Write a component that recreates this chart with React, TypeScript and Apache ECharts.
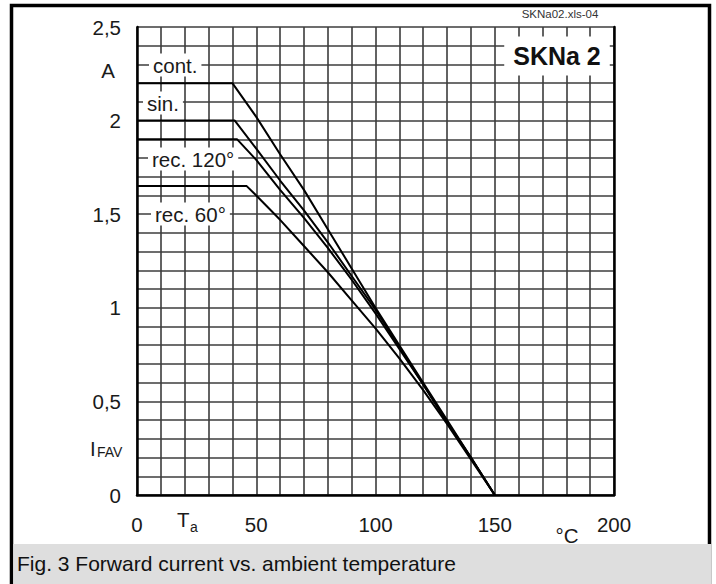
import React, { useEffect, useRef } from "react";
import * as echarts from "echarts";

// ---- data ----
const xLabelValues = [0, 50, 100, 150, 200];
const yTickLabels = ["0", "0,5", "1", "1,5", "2", "2,5"];

const contT = [0, 40, 50, 60, 70, 80, 90, 100, 110, 120, 130, 140, 150];
const contI = [2.2, 2.2, 2.02, 1.82, 1.63, 1.42, 1.21, 1.0, 0.8, 0.6, 0.4, 0.2, 0];

const sinT = [0, 41, 50, 60, 70, 80, 90, 100, 110, 120, 130, 140, 150];
const sinI = [2.0, 2.0, 1.85, 1.68, 1.52, 1.35, 1.17, 0.99, 0.79, 0.59, 0.39, 0.2, 0];

const rec120T = [0, 42, 50, 60, 70, 80, 90, 100, 110, 120, 130, 140, 150];
const rec120I = [1.9, 1.9, 1.79, 1.63, 1.48, 1.32, 1.15, 0.97, 0.78, 0.59, 0.39, 0.2, 0];

const rec60T = [0, 46, 50, 60, 70, 80, 90, 100, 110, 120, 130, 140, 150];
const rec60I = [1.65, 1.65, 1.6, 1.47, 1.33, 1.19, 1.04, 0.89, 0.73, 0.56, 0.38, 0.19, 0];

const curveNames = ["cont.", "sin.", "rec. 120°", "rec. 60°"];
const curveT = [contT, sinT, rec120T, rec60T];
const curveI = [contI, sinI, rec120I, rec60I];

const FONT = '"Liberation Sans", Arial, Helvetica, sans-serif';

function pairs(t: number[], i: number[]) {
  return t.map((v, k) => [v, i[k]]);
}

export default function App() {
  const ref = useRef<HTMLDivElement>(null);

  useEffect(() => {
    const chart = echarts.init(ref.current!, null, { renderer: "svg" });

    const labelBox = (text: string, x: number, y: number) => ({
      type: "text",
      z: 60,
      style: {
        text,
        x,
        y,
        fill: "#1a1a1a",
        fontSize: 20.5,
        fontFamily: FONT,
        align: "left",
        verticalAlign: "middle",
        backgroundColor: "#fff",
        padding: [1, 4, 1, 4],
      },
    });

    const plainText = (
      text: string,
      x: number,
      y: number,
      size: number,
      align: string,
      extra: any = {}
    ) => ({
      type: "text",
      z: 60,
      style: {
        text,
        x,
        y,
        fill: "#1a1a1a",
        fontSize: size,
        fontFamily: FONT,
        align,
        verticalAlign: "middle",
        ...extra,
      },
    });

    const option: any = {
      animation: false,
      backgroundColor: "#fff",
      grid: { left: 137, top: 27, width: 477, height: 468, containLabel: false },
      xAxis: {
        type: "value",
        min: 0,
        max: 200,
        interval: 10,
        axisLine: { show: true, onZero: false, lineStyle: { color: "#000", width: 2.5 } },
        axisTick: { show: false },
        axisLabel: {
          margin: 19,
          fontSize: 20.5,
          fontFamily: FONT,
          color: "#1a1a1a",
          formatter: (v: number) => (xLabelValues.indexOf(Math.round(v)) >= 0 ? String(Math.round(v)) : ""),
        },
        splitLine: { show: true, lineStyle: { color: "#3c3c3c", width: 1.6 } },
      },
      yAxis: [
        {
          type: "value",
          min: 0,
          max: 2.5,
          interval: 0.1,
          axisLine: { show: true, onZero: false, lineStyle: { color: "#000", width: 2.5 } },
          axisTick: { show: false },
          axisLabel: {
            margin: 16,
            fontSize: 20.5,
            fontFamily: FONT,
            color: "#1a1a1a",
            formatter: (v: number) => {
              const k = Math.round(v * 10);
              return k % 5 === 0 ? yTickLabels[k / 5] : "";
            },
          },
          splitLine: { show: true, lineStyle: { color: "#3c3c3c", width: 1.6 } },
        },
        {
          type: "value",
          position: "right",
          min: 0,
          max: 2.5,
          interval: 0.5,
          axisLine: { show: true, onZero: false, lineStyle: { color: "#000", width: 2.5 } },
          axisTick: { show: false },
          axisLabel: { show: false },
          splitLine: { show: false },
        },
      ],
      series: curveNames.map((name, k) => ({
        name,
        type: "line",
        data: pairs(curveT[k], curveI[k]),
        showSymbol: false,
        symbol: "none",
        smooth: false,
        z: 5,
        lineStyle: { color: "#000", width: 2 },
      })),
      graphic: [
        {
          type: "rect",
          z: 50,
          shape: { x: 11.5, y: 5.5, width: 698, height: 620 },
          style: { fill: "none", stroke: "#000", lineWidth: 3.5 },
        },
        {
          type: "rect",
          z: 51,
          shape: { x: 13.3, y: 544, width: 698, height: 45 },
          style: { fill: "#dedede" },
        },
        plainText("Fig. 3 Forward current vs. ambient temperature", 17, 563, 21, "left", { fill: "#111" }),
        plainText("SKNa02.xls-04", 560, 14, 11.5, "center", { fill: "#333" }),
        {
          type: "text",
          z: 60,
          style: {
            text: "SKNa 2",
            x: 557,
            y: 56,
            fill: "#111",
            fontSize: 25,
            fontWeight: "bold",
            fontFamily: FONT,
            align: "center",
            verticalAlign: "middle",
            backgroundColor: "#fff",
            padding: [7, 9, 7, 9],
          },
        },
        labelBox("cont.", 149, 65),
        labelBox("sin.", 143, 103),
        labelBox("rec. 120°", 148, 159),
        labelBox("rec. 60°", 151, 214),
        plainText("A", 108, 70, 20.5, "center"),
        plainText("I", 90, 448, 20.5, "left"),
        plainText("FAV", 97, 452, 14, "left"),
        plainText("T", 177, 519, 20.5, "left"),
        plainText("a", 190, 527, 14, "left"),
        plainText("°C", 567, 535, 20.5, "center"),
      ],
    };

    chart.setOption(option);
    return () => chart.dispose();
  }, []);

  return (
    <div
      ref={ref}
      style={{ position: "fixed", left: 0, top: 0, width: 716, height: 584, background: "#fff" }}
    />
  );
}
